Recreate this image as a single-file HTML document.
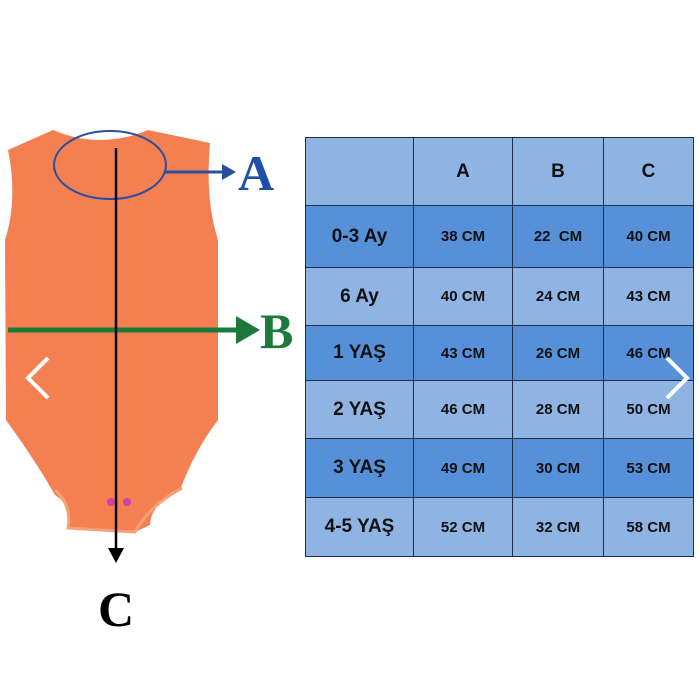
<!DOCTYPE html>
<html><head><style>
body{margin:0;width:700px;height:700px;background:#fff;overflow:hidden;position:relative;font-family:"Liberation Sans",sans-serif}
table{position:absolute;left:305px;top:137px;border-collapse:collapse;table-layout:fixed;width:388px}
td{border:1.5px solid #1f2f4a;text-align:center;font-weight:bold;color:#111;font-size:15px;padding:0;box-sizing:border-box}
td.r{font-size:19px}
tr.l td{background:#8fb4e3}
tr.d td{background:#5590d8}
</style></head><body>
<svg width="700" height="700" style="position:absolute;left:0;top:0">
<path d="M8,150 L53,130 Q100,150 148,130 L210,143 Q205,200 218,240 L218,420 Q195,450 180,490 Q150,505 150,525 L135,532 L68,528 Q72,505 55,495 Q35,460 6,420 L5,240 Q18,200 8,150 Z" fill="#f47f50"/>
<path d="M55,490 Q72,505 68,528 L135,532 Q150,505 182,488" fill="none" stroke="#f9a07a" stroke-width="3"/>
<circle cx="111" cy="502" r="4" fill="#d040b0"/><circle cx="127" cy="502" r="4" fill="#d040b0"/>
<ellipse cx="110" cy="165" rx="56" ry="34" fill="none" stroke="#2a4f9e" stroke-width="2"/>
<line x1="164" y1="172" x2="225" y2="172" stroke="#2a4f9e" stroke-width="3"/>
<polygon points="222,164 236,172 222,180" fill="#2a4f9e"/>
<text x="238" y="190" font-family="Liberation Serif" font-weight="bold" font-size="50" fill="#1f4fa8">A</text>
<line x1="8" y1="330" x2="240" y2="330" stroke="#1b7a3a" stroke-width="5"/>
<polygon points="236,316 260,330 236,344" fill="#1b7a3a"/>
<text x="260" y="348" font-family="Liberation Serif" font-weight="bold" font-size="50" fill="#1b7a3a">B</text>
<line x1="116" y1="148" x2="116" y2="552" stroke="#000" stroke-width="2.5"/>
<polygon points="108,548 124,548 116,563" fill="#000"/>
<text x="98" y="626" font-family="Liberation Serif" font-weight="bold" font-size="50" fill="#000">C</text>
<polyline points="48,358 28,378 48,398" fill="none" stroke="#fff" stroke-width="4"/>
</svg>
<table>
<colgroup><col style="width:108px"><col style="width:99px"><col style="width:91px"><col style="width:90px"></colgroup>
<tr class="l" style="height:68px"><td></td><td class="r">A</td><td class="r">B</td><td class="r">C</td></tr>
<tr class="d" style="height:62px"><td class="r">0-3 Ay</td><td>38 CM</td><td>22&nbsp; CM</td><td>40 CM</td></tr>
<tr class="l" style="height:58px"><td class="r">6 Ay</td><td>40 CM</td><td>24 CM</td><td>43 CM</td></tr>
<tr class="d" style="height:55px"><td class="r">1 YAŞ</td><td>43 CM</td><td>26 CM</td><td>46 CM</td></tr>
<tr class="l" style="height:58px"><td class="r">2 YAŞ</td><td>46 CM</td><td>28 CM</td><td>50 CM</td></tr>
<tr class="d" style="height:59px"><td class="r">3 YAŞ</td><td>49 CM</td><td>30 CM</td><td>53 CM</td></tr>
<tr class="l" style="height:59px"><td class="r">4-5 YAŞ</td><td>52 CM</td><td>32 CM</td><td>58 CM</td></tr>
</table>
<svg width="700" height="700" style="position:absolute;left:0;top:0">
<polyline points="667,358 687,378 667,398" fill="none" stroke="#fff" stroke-width="4"/>
</svg>
</body></html>
